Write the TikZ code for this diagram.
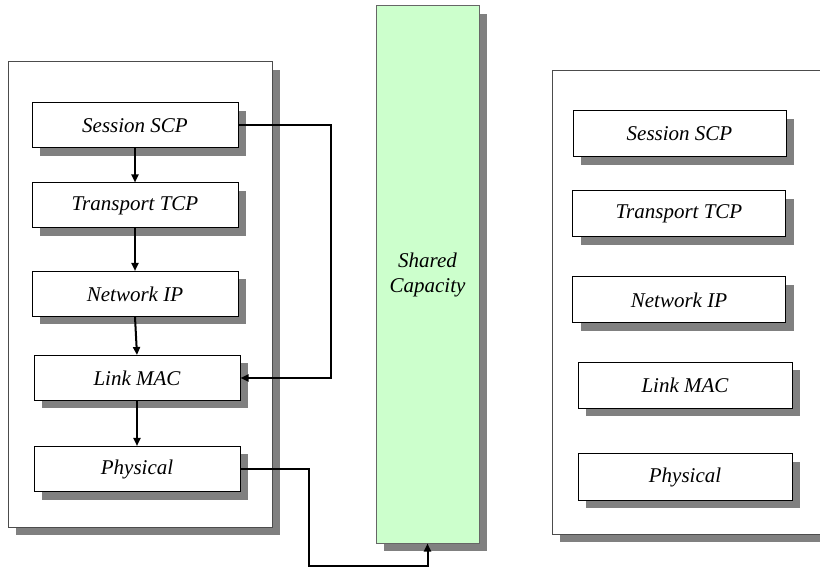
\documentclass[tikz,border=0pt]{standalone}
\usepackage{fontspec}
\setmainfont{Liberation Serif}
\usetikzlibrary{shadows}
\usetikzlibrary{arrows.meta}
\definecolor{sharedCol}{HTML}{CCFFCC}
\tikzset{
  shad/.style={drop shadow={shadow xshift=8pt, shadow yshift=-8pt, fill=black!50, opacity=1}},
  layer/.style={draw=black, fill=white, line width=1pt, minimum width=206pt, minimum height=45pt, inner sep=0pt, shad,
    font=\fontsize{21}{24}\selectfont\itshape},
  stack/.style={draw=black!70, fill=white, line width=1pt, inner sep=0pt, shad},
  link/.style={line width=2pt, -{Triangle[length=8pt, width=7pt]}}
}

\begin{document}
\begin{tikzpicture}[x=1pt, y=-1pt]
%--------------------------------------------------
\useasboundingbox (0,0) rectangle (820,569);
\clip (0,0) rectangle (820,569);

% the two stacks as frames
\node [stack, minimum width=264pt, minimum height=465pt] (leftstack) at (140,294.5) {};
\node [stack, minimum width=278pt, minimum height=463pt] (rightstack) at (691,302.5) {};

% shared medium in the middle
\node [stack, draw=black!60, fill=sharedCol, minimum width=103pt, minimum height=537pt, align=center,
  font=\fontsize{21}{25}\selectfont\itshape] (shared) at (427.5,274.5) {Shared\\Capacity};

% layers of the left stack
\node [layer] (lsession) at (135,125.5) {Session SCP};
\node [layer] (ltransport) at (135,205.5) {Transport TCP};
\node [layer] (lnetwork) at (135,294) {Network IP};
\node [layer] (llink) at (137,378) {Link MAC};
\node [layer] (lphysical) at (137,469) {Physical};

% layers of the right stack
\node [layer, minimum width=213pt, minimum height=46pt] (rsession) at (679.5,134) {Session SCP};
\node [layer, minimum width=213pt, minimum height=46pt] (rtransport) at (679,214) {Transport TCP};
\node [layer, minimum width=213pt, minimum height=46pt] (rnetwork) at (679,300) {Network IP};
\node [layer, minimum width=214pt, minimum height=46pt] (rlink) at (685,385.5) {Link MAC};
\node [layer, minimum width=214pt, minimum height=46pt] (rphysical) at (685,477) {Physical};

% arrows down the left stack
\draw [link] (lsession.south) -- (ltransport.north);
\draw [link] (ltransport.south) -- (lnetwork.north);
\draw [link] (lnetwork.south) -- (llink.north);
\draw [link] (llink.south) -- (lphysical.north);

% cross-layer arrow and the one to the medium
\draw [link] (lsession.east) -- ++(92,0) |- (llink.east);
\draw [link] (lphysical.east) -- ++(68,0) -- ++(0,97) -| (shared.south);

%--------------------------------------------------
\end{tikzpicture}
\end{document}
